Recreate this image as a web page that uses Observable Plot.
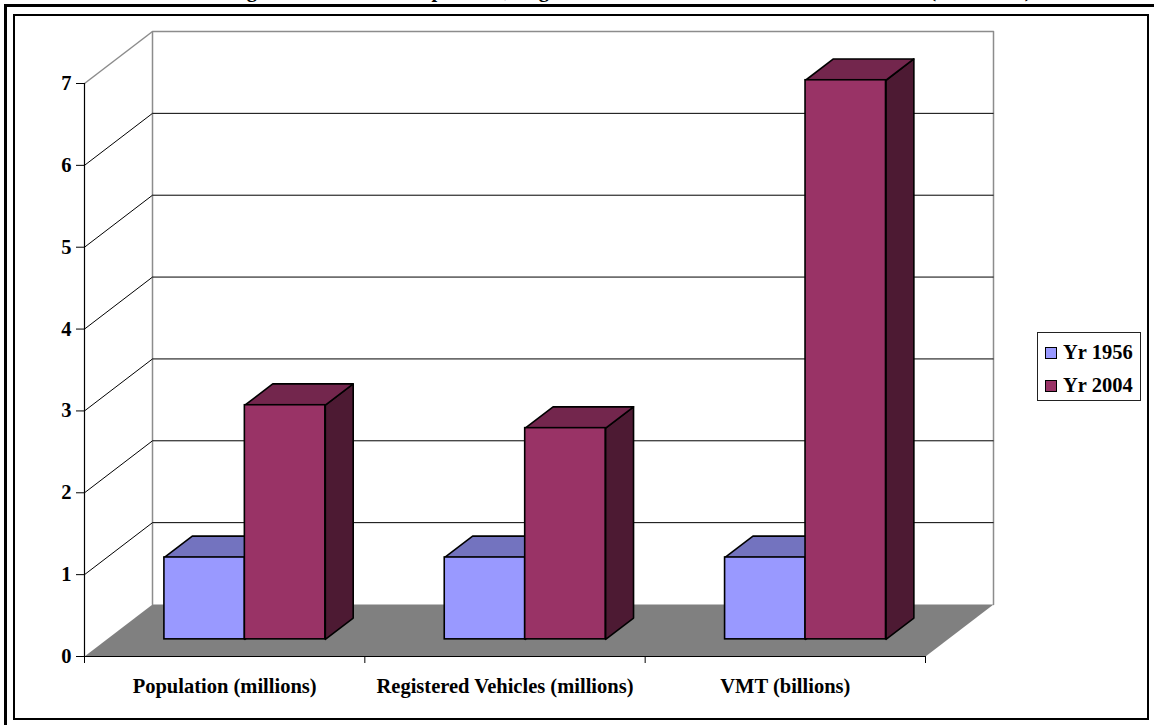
<!DOCTYPE html>
<html>
<head>
<meta charset="utf-8">
<script src="https://cdn.jsdelivr.net/npm/d3@7"></script>
<script src="https://cdn.jsdelivr.net/npm/@observablehq/plot@0.6"></script>
<style>
  html, body { margin: 0; padding: 0; background: #fff; }
  #page { position: relative; width: 1154px; height: 725px; overflow: hidden; background: #fff;
          font-family: "Liberation Serif", "Times New Roman", serif; font-weight: bold; }
  #outer { position: absolute; left: 4px; top: 4px; width: 1200px; height: 800px;
           border-left: 3px solid #000; border-top: 3px solid #000; }
  #inner { position: absolute; left: 13px; top: 14px; width: 1132px; height: 702px;
           border: 2px solid #000; }
  #title { position: absolute; left: 0; top: -20.5px; width: 1260px; text-align: center;
           font-size: 20.5px; line-height: 20.5px; white-space: nowrap; }
  #chart { position: absolute; left: 0; top: 0; }
  #legend { position: absolute; left: 1037px; top: 332px; width: 102px; height: 67px;
            border: 1px solid #222; background: #fff; font-size: 20.5px; }
  .item { position: absolute; left: 7px; height: 24px; white-space: nowrap; }
  .sw { position: absolute; left: 0; top: 5px; width: 10px; height: 10px; border: 1px solid #000; }
  .lab { position: absolute; left: 18px; top: -1px; line-height: 22px; }
</style>
</head>
<body>
<div id="page">
  <div id="outer"></div>
  <div id="inner"></div>
  <div id="title">Figure 2: Growth in Population, Registered Vehicles and Vehicle Miles Traveled (1956 = 1.0)</div>
  <div id="chart"></div>
  <div id="legend"></div>
</div>
<script>
// Growth of population, registered vehicles and VMT, indexed to 1956 = 1
const categories = ["Population (millions)", "Registered Vehicles (millions)", "VMT (billions)"];
const series = ["Yr 1956", "Yr 2004"];
const values1956 = [1, 1, 1];
const values2004 = [2.86, 2.58, 6.83];
const yTicks = [0, 1, 2, 3, 4, 5, 6, 7];

// face colours per series: front, top, side
const palette = [
  {front: "#9999ff", top: "#7373bf", side: "#4d4d80"},
  {front: "#993366", top: "#73264d", side: "#4d1a33"}
];

const W = 1154, H = 725;
const M = {left: 84, right: 229, top: 83, bottom: 69};
const yMax = 7;
const pxPerX = (W - M.left - M.right) / categories.length;
const pxPerY = (H - M.top - M.bottom) / yMax;
// oblique depth of the 3-D box, in pixels (to the right, upward)
const DX = 68 / pxPerX, DY = 52 / pxPerY;
const P = (x, y, d) => ({x: x + d * DX, y: y + d * DY});

// bar layout within each category (x units) and depth band (0 = front, 1 = back)
const groupStart = 0.205, barW = 0.287, f1 = 0.33, f2 = 0.74;

const seriesValues = [values1956, values2004];
const fronts = [[], []], tops = [[], []], sides = [[], []];
categories.forEach((c, i) => {
  seriesValues.forEach((vals, s) => {
    const v = vals[i];
    const x0 = i + groupStart + s * barW, x1 = x0 + barW;
    const id = `${c}-${s}`;
    fronts[s].push({x1: x0 + f1 * DX, x2: x1 + f1 * DX, y1: f1 * DY, y2: v + f1 * DY});
    [P(x0, v, f1), P(x1, v, f1), P(x1, v, f2), P(x0, v, f2)].forEach(p => tops[s].push({...p, id}));
    [P(x1, 0, f1), P(x1, v, f1), P(x1, v, f2), P(x1, 0, f2)].forEach(p => sides[s].push({...p, id}));
  });
});

const floor = [P(0, 0, 0), P(3, 0, 0), P(3, 0, 1), P(0, 0, 1)];
const backFrame = [P(0, 0, 1), P(0, yMax, 1), P(3, yMax, 1), P(3, 0, 1)];
const gridVals = yTicks.filter(v => v > 0 && v < yMax);

const barMarks = s => [
  Plot.line(sides[s], {x: "x", y: "y", z: "id", curve: "linear-closed",
    fill: palette[s].side, stroke: "#000", strokeWidth: 1.6, strokeLinejoin: "round"}),
  Plot.line(tops[s], {x: "x", y: "y", z: "id", curve: "linear-closed",
    fill: palette[s].top, stroke: "#000", strokeWidth: 1.6, strokeLinejoin: "round"}),
  Plot.rect(fronts[s], {x1: "x1", x2: "x2", y1: "y1", y2: "y2",
    fill: palette[s].front, stroke: "#000", strokeWidth: 1.6})
];

const chart = Plot.plot({
  width: W, height: H,
  marginLeft: M.left, marginRight: M.right, marginTop: M.top, marginBottom: M.bottom,
  x: {domain: [0, 3]},
  y: {domain: [0, yMax]},
  style: {background: "transparent", overflow: "visible",
          fontFamily: "'Liberation Serif', 'Times New Roman', serif",
          fontSize: "20.5px", fontWeight: "bold", color: "#000"},
  marks: [
    // floor
    Plot.line(floor, {x: "x", y: "y", curve: "linear-closed", fill: "#808080", stroke: "none"}),
    // back wall outline
    Plot.line(backFrame, {x: "x", y: "y", stroke: "#8c8c8c", strokeWidth: 1.5}),
    // back wall gridlines
    Plot.link(gridVals, {x1: () => DX, x2: () => 3 + DX, y1: v => v + DY, y2: v => v + DY,
      stroke: "#000", strokeWidth: 1}),
    // side wall gridlines
    Plot.link(gridVals, {x1: () => 0, x2: () => DX, y1: v => v, y2: v => v + DY,
      stroke: "#000", strokeWidth: 1}),
    Plot.link([yMax], {x1: () => 0, x2: () => DX, y1: v => v, y2: v => v + DY,
      stroke: "#8c8c8c", strokeWidth: 1.5}),
    // bars: 1956 first, then 2004 which overlaps its side
    ...barMarks(0),
    ...barMarks(1),
    // axes
    Plot.ruleX([0], {y1: 0, y2: yMax, stroke: "#000", strokeWidth: 1.2}),
    Plot.ruleY([0], {x1: 0, x2: 3, stroke: "#000", strokeWidth: 1.2}),
    Plot.axisY({ticks: yTicks, tickSize: 8, tickPadding: 5, label: null, tickFormat: d3.format("d")}),
    Plot.axisX({ticks: [0, 1, 2, 3], tickSize: 7, label: null, tickFormat: () => ""}),
    Plot.axisX({ticks: categories.map((c, i) => i + 0.5), tickSize: 0, tickPadding: 22, label: null,
      tickFormat: d => categories[Math.floor(d)]})
  ]
});
document.getElementById("chart").appendChild(chart);

// legend
const legend = document.getElementById("legend");
series.forEach((name, s) => {
  const item = document.createElement("div");
  item.className = "item";
  item.style.top = (9 + s * 33) + "px";
  const sw = document.createElement("div");
  sw.className = "sw";
  sw.style.background = palette[s].front;
  const lab = document.createElement("div");
  lab.className = "lab";
  lab.textContent = name;
  item.appendChild(sw);
  item.appendChild(lab);
  legend.appendChild(item);
});
</script>
</body>
</html>
